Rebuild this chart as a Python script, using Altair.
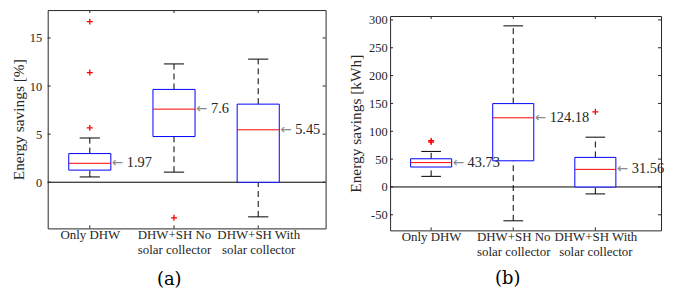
import json
import altair as alt
import pandas as pd

SERIF = "Liberation Serif"
INK = "#262626"

# ---------------- data ----------------
categories = ["Only DHW", "DHW+SH No|solar collector", "DHW+SH With|solar collector"]
positions = [1, 2, 3]

# panel (a): energy savings [%]
a_whisker_low = [0.55, 1.05, -3.6]
a_q1 = [1.26, 4.75, 0.0]
a_median = [1.97, 7.6, 5.45]
a_q3 = [2.98, 9.65, 8.12]
a_whisker_high = [4.6, 12.3, 12.8]
a_median_labels = ["1.97", "7.6", "5.45"]
a_outlier_pos = [1, 1, 1, 2]
a_outlier_val = [16.7, 11.4, 5.65, -3.7]
a_yticks = [0, 5, 10, 15]
a_ydomain = [-4.8, 17.9]

# panel (b): energy savings [kWh]
b_whisker_low = [19, -60.8, -12.5]
b_q1 = [35.8, 47, 0.0]
b_median = [43.73, 124.18, 31.56]
b_q3 = [50.6, 149.7, 53.1]
b_whisker_high = [63.8, 289.3, 89.4]
b_median_labels = ["43.73", "124.18", "31.56"]
b_outlier_pos = [1, 1, 3]
b_outlier_val = [80.5, 83.0, 135.0]
b_yticks = [-50, 0, 50, 100, 150, 200, 250, 300]
b_ydomain = [-78, 307]

# multi-line category labels
parts = [c.split("|") for c in categories]
lbl = json.dumps(parts[-1] if len(parts[-1]) > 1 else parts[-1][0])
for p, c in reversed(list(zip(positions[:-1], parts[:-1]))):
    v = json.dumps(c if len(c) > 1 else c[0])
    lbl = f"datum.value == {p} ? {v} : ({lbl})"
x_label_expr = lbl

PLUS = "M-1,0L1,0M0,-1L0,1"


def panel(lo, q1, med, q3, hi, med_lab, out_pos, out_val, yticks, ydom,
          ytitle, caption, width, height, ext, lab_pad, title_pad, cap_x, cap_y):
    box = pd.DataFrame({"pos": positions, "lo": lo, "q1": q1, "med": med,
                        "q3": q3, "hi": hi, "lab": med_lab})
    outs = pd.DataFrame({"pos": out_pos, "val": out_val})
    ytk = pd.DataFrame({"t": yticks})
    xtk = pd.DataFrame({"p": positions})
    zero = pd.DataFrame({"z": [0]})

    xs = alt.Scale(domain=[0.5, 3.8], nice=False, zero=False)
    ys = alt.Scale(domain=ydom, nice=False, zero=False)

    xaxis = alt.Axis(values=positions, labelExpr=x_label_expr, title=caption,
                     grid=False, domain=False, ticks=False, tickSize=0,
                     labelPadding=0, labelFont=SERIF, labelFontSize=13,
                     labelColor=INK, labelLineHeight=15, labelFlush=False,
                     labelOverlap=False, titleFont="DejaVu Serif",
                     titleFontSize=18, titleFontWeight="normal",
                     titleColor="black", titleX=cap_x, titleY=cap_y,
                     titleBaseline="alphabetic", titleAlign="center")
    yaxis = alt.Axis(values=yticks, labelExpr="datum.value + ''", title=ytitle,
                     grid=False, domain=False, ticks=False, tickSize=0,
                     labelPadding=lab_pad, labelFont=SERIF, labelFontSize=12.5,
                     labelColor=INK, minExtent=ext, maxExtent=ext,
                     titlePadding=title_pad, titleFont=SERIF, titleFontSize=15.5,
                     titleFontWeight="normal", titleColor=INK)

    def X(f):
        return alt.X(f, scale=xs, axis=xaxis)

    def Y(f):
        return alt.Y(f, scale=ys, axis=yaxis)

    zero_line = alt.Chart(zero).mark_rule(color="black", strokeWidth=1).encode(
        x=alt.value(0), x2=alt.value(width), y=Y("z:Q"))

    base = alt.Chart(box)
    whisk_lo = base.mark_rule(color="black", strokeWidth=1, strokeDash=[6, 4]).encode(
        x=X("pos:Q"), y=Y("lo:Q"), y2="q1:Q")
    whisk_hi = base.mark_rule(color="black", strokeWidth=1, strokeDash=[6, 4]).encode(
        x=X("pos:Q"), y=Y("q3:Q"), y2="hi:Q")
    caps = base.transform_fold(["lo", "hi"], as_=["k", "v"]).transform_calculate(
        cl="datum.pos - 0.12", cr="datum.pos + 0.12").mark_rule(
        color="black", strokeWidth=1).encode(
        x=X("cl:Q"), x2="cr:Q", y=Y("v:Q"))
    boxes = base.transform_calculate(
        bl="datum.pos - 0.25", br="datum.pos + 0.25").mark_rect(
        fill="white", stroke="#0000FF", strokeWidth=1).encode(
        x=X("bl:Q"), x2="br:Q", y=Y("q1:Q"), y2="q3:Q")
    medians = base.transform_calculate(
        bl="datum.pos - 0.25", br="datum.pos + 0.25").mark_rule(
        color="#FF0000", strokeWidth=1).encode(
        x=X("bl:Q"), x2="br:Q", y=Y("med:Q"))
    outliers = alt.Chart(outs).mark_point(
        shape=PLUS, filled=False, color="#FF0000", strokeWidth=1.3, size=36,
        opacity=1).encode(x=X("pos:Q"), y=Y("val:Q"))
    ann_base = base.transform_calculate(br="datum.pos + 0.25")
    arrows = ann_base.mark_text(
        text="←", align="left", baseline="middle", dx=1, dy=0,
        font="DejaVu Sans", fontSize=13.5, color="#8a8a8a").encode(
        x=X("br:Q"), y=Y("med:Q"))
    numbers = ann_base.mark_text(
        align="left", baseline="middle", dx=16, font=SERIF, fontSize=14.5,
        color=INK).encode(x=X("br:Q"), y=Y("med:Q"), text="lab:N")

    tick_c = INK
    lt = alt.Chart(ytk).mark_rule(color=tick_c).encode(
        y=Y("t:Q"), x=alt.value(0), x2=alt.value(3))
    rt = alt.Chart(ytk).mark_rule(color=tick_c).encode(
        y=Y("t:Q"), x=alt.value(width - 3), x2=alt.value(width))
    tt = alt.Chart(xtk).mark_rule(color=tick_c).encode(
        x=X("p:Q"), y=alt.value(0), y2=alt.value(3))
    bt = alt.Chart(xtk).mark_rule(color=tick_c).encode(
        x=X("p:Q"), y=alt.value(height - 3), y2=alt.value(height))

    return alt.layer(zero_line, tt, whisk_lo, whisk_hi, caps, boxes,
                     medians, outliers, arrows, numbers, lt, rt, bt
                     ).properties(width=width, height=height)


pa = panel(a_whisker_low, a_q1, a_median, a_q3, a_whisker_high, a_median_labels,
           a_outlier_pos, a_outlier_val, a_yticks, a_ydomain,
           "Energy savings [%]", "(a)", 280, 220, 17, 6, 4.5, 122, 57)
pb = panel(b_whisker_low, b_q1, b_median, b_q3, b_whisker_high, b_median_labels,
           b_outlier_pos, b_outlier_val, b_yticks, b_ydomain,
           "Energy savings [kWh]", "(b)", 273, 216, 22, 3, 4.5, 118, 54)

spacer = alt.Chart(pd.DataFrame({"s": [0]})).mark_rule(
    strokeOpacity=0, strokeWidth=0).encode(
    x=alt.value(0), x2=alt.value(1), y=alt.value(0)).properties(
    width=273, height=1, view=alt.ViewBackground(stroke=None))

right = alt.vconcat(spacer, pb, spacing=2)

chart = alt.hconcat(pa, right, spacing=65, bounds="flush").properties(
    padding={"left": 3, "top": 0, "right": 0, "bottom": 0},
    background="white"
).configure_view(stroke=INK, strokeWidth=1).configure_axis(
    labelFont=SERIF, titleFont=SERIF
).configure_axisBottom(titleFont="DejaVu Serif")

chart.save("out.html", embed_options={"renderer": "svg", "actions": False})
